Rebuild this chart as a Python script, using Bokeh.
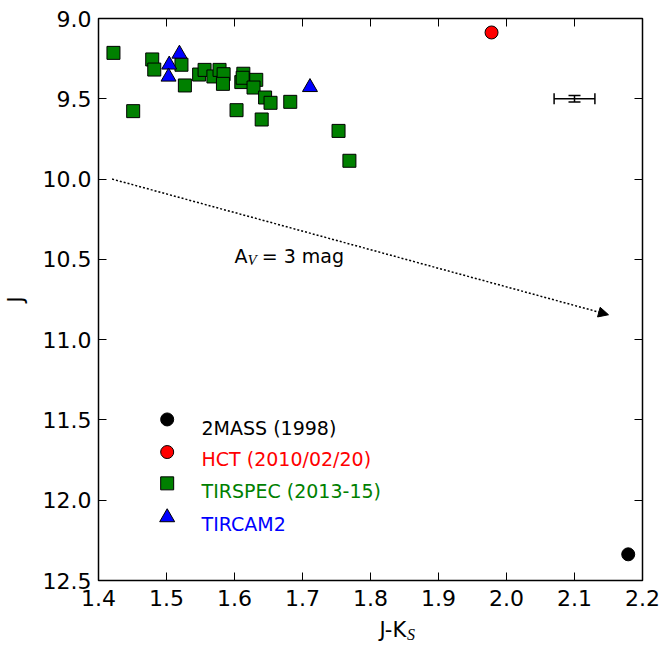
from bokeh.plotting import figure
from bokeh.layouts import column
from bokeh.models import (Range1d, FixedTicker, LinearAxis, Label, Arrow, NormalHead,
                          Whisker, TeeHead, ColumnDataSource, CustomJSTickFormatter)
from bokeh.core.properties import value
from bokeh.embed import file_html
from bokeh.resources import INLINE

# ---- data ----
tirspec_jk = [1.422, 1.479, 1.482, 1.522, 1.451, 1.527, 1.548, 1.556, 1.569, 1.578, 1.584, 1.583,
              1.603, 1.613, 1.610, 1.612, 1.632, 1.628, 1.645, 1.653, 1.640, 1.682, 1.753, 1.769]
tirspec_j = [9.214, 9.255, 9.318, 9.288, 9.577, 9.417, 9.349, 9.320, 9.361, 9.320, 9.347, 9.407,
             9.571, 9.344, 9.396, 9.369, 9.382, 9.430, 9.492, 9.525, 9.629, 9.519, 9.700, 9.886]
tircam_jk = [1.519, 1.504, 1.503, 1.711]
tircam_j = [9.220, 9.288, 9.363, 9.428]
hct_jk = [1.978]
hct_j = [9.087]
twomass_jk = [2.179]
twomass_j = [12.337]

err_jk = [2.10]
err_j = [9.50]
err_djk = [0.03]
err_dj = [0.02]

av_start = (1.42, 10.0)
av_end = (2.15, 10.845)

legend_labels = ["2MASS (1998)", "HCT (2010/02/20)", "TIRSPEC (2013-15)", "TIRCAM2"]
legend_colors = ["black", "red", "green", "blue"]
legend_markers = ["circle", "circle", "square", "triangle"]
legend_marker_y = [11.497, 11.700, 11.895, 12.107]
legend_text_y = [11.553, 11.746, 11.945, 12.150]
legend_marker_x = 1.501
legend_text_x = 1.5515

x_ticks = [1.4, 1.5, 1.6, 1.7, 1.8, 1.9, 2.0, 2.1, 2.2]
y_ticks = [9.0, 9.5, 10.0, 10.5, 11.0, 11.5, 12.0, 12.5]

FONT = "DejaVu Sans"
MATH_FONT = "Liberation Serif"
TICK_FS = "22px"

p = figure(width=663, height=615, output_backend="svg", toolbar_location=None,
           x_range=Range1d(1.4, 2.2), y_range=Range1d(12.5, 9.0),
           min_border_left=98, min_border_right=21, min_border_top=18, min_border_bottom=35,
           background_fill_color="white", border_fill_color="white")
p.grid.visible = False
p.outline_line_color = "black"
p.outline_line_width = 1.5

for ax, ticks in ((p.xaxis[0], x_ticks), (p.yaxis[0], y_ticks)):
    ax.ticker = FixedTicker(ticks=ticks)
    ax.major_tick_in = 8
    ax.major_tick_out = 0
    ax.minor_tick_line_color = None
    ax.axis_line_color = None
    ax.major_tick_line_color = "black"
    ax.major_tick_line_width = 1
    ax.major_label_text_font = FONT
    ax.major_label_text_font_size = TICK_FS
    ax.major_label_text_color = "black"
p.xaxis[0].major_label_standoff = 9
p.yaxis[0].major_label_standoff = 7
p.xaxis[0].major_label_overrides = {t: f"{t:.1f}" for t in x_ticks}
p.yaxis[0].major_label_overrides = {t: f"{t:.1f}" for t in y_ticks}

p.yaxis[0].axis_label = "J"
p.yaxis[0].axis_label_text_font = FONT
p.yaxis[0].axis_label_text_font_style = "normal"
p.yaxis[0].axis_label_text_font_size = "21px"
p.yaxis[0].axis_label_text_color = "black"
p.yaxis[0].axis_label_standoff = 12

empty = CustomJSTickFormatter(code="return ''")
top = LinearAxis(ticker=FixedTicker(ticks=x_ticks), formatter=empty, major_tick_in=8, major_tick_out=0,
                 minor_tick_line_color=None, axis_line_color=None, major_label_standoff=0)
right = LinearAxis(ticker=FixedTicker(ticks=y_ticks), formatter=empty, major_tick_in=8, major_tick_out=0,
                   minor_tick_line_color=None, axis_line_color=None, major_label_standoff=0)
p.add_layout(top, "above")
p.add_layout(right, "right")

# extinction vector
p.add_layout(Arrow(x_start=av_start[0], y_start=av_start[1], x_end=av_end[0], y_end=av_end[1],
                   line_color="black", line_width=1.5, line_dash="2 2",
                   end=NormalHead(size=10, fill_color="black", line_color="black", line_width=1)))

# data points
p.scatter(tirspec_jk, tirspec_j, marker="square", size=13, fill_color="green", line_color="black", line_width=1)
p.scatter(tircam_jk, tircam_j, marker="triangle", size=15, fill_color="blue", line_color="black", line_width=1)
p.scatter(hct_jk, hct_j, marker="circle", size=13, fill_color="red", line_color="black", line_width=1)
p.scatter(twomass_jk, twomass_j, marker="circle", size=13, fill_color="black", line_color="black", line_width=1)

# typical error bar
es = ColumnDataSource(dict(x=err_jk, y=err_j,
                           xl=[a - b for a, b in zip(err_jk, err_djk)], xu=[a + b for a, b in zip(err_jk, err_djk)],
                           yl=[a - b for a, b in zip(err_j, err_dj)], yu=[a + b for a, b in zip(err_j, err_dj)]))
p.add_layout(Whisker(source=es, dimension="width", base="y", lower="xl", upper="xu",
                     line_color="black", line_width=1.5,
                     lower_head=TeeHead(size=11, line_color="black", line_width=1.5),
                     upper_head=TeeHead(size=11, line_color="black", line_width=1.5)))
p.add_layout(Whisker(source=es, dimension="height", base="x", lower="yl", upper="yu",
                     line_color="black", line_width=1.5,
                     lower_head=TeeHead(size=12, line_color="black", line_width=1.5),
                     upper_head=TeeHead(size=12, line_color="black", line_width=1.5)))

# A_V label
p.add_layout(Label(x=1.600, y=10.48, text="A", text_font=FONT, text_font_size="19px",
                   text_color="black", text_baseline="middle", text_align="left"))
p.add_layout(Label(x=1.619, y=10.505, text="V", text_font=MATH_FONT, text_font_style="italic",
                   text_color="black", text_font_size="15px", text_baseline="middle", text_align="left"))
p.add_layout(Label(x=1.640, y=10.48, text="= 3 mag", text_font=FONT, text_font_size="19px",
                   text_color="black", text_baseline="middle", text_align="left"))

# legend (drawn by hand, as in the reference)
for lab, col, mk, my, ty in zip(legend_labels, legend_colors, legend_markers, legend_marker_y, legend_text_y):
    p.scatter([legend_marker_x], [my], marker=mk, size=15 if mk == "triangle" else 13,
              fill_color=col, line_color="black", line_width=1)
    p.add_layout(Label(x=legend_text_x, y=ty, text=lab, text_color=col, text_font=FONT,
                       text_font_size="19px", text_baseline="middle", text_align="left"))

# x-axis title strip (J-K_S), pixel coordinates
q = figure(width=663, height=30, output_backend="svg", toolbar_location=None,
           x_range=Range1d(0, 663), y_range=Range1d(30, 0),
           x_axis_location=None, y_axis_location=None,
           min_border_left=0, min_border_right=0, min_border_top=0, min_border_bottom=0,
           background_fill_color="white", border_fill_color="white")
q.grid.visible = False
q.outline_line_color = None
q.text(x=[375], y=[14], text=["J-K"], text_align="right", text_baseline="middle",
       text_font=value(FONT), text_font_size="21px", text_color="black")
q.text(x=[376], y=[19], text=["S"], text_align="left", text_baseline="middle",
       text_font=value(MATH_FONT), text_font_style="italic", text_font_size="16px", text_color="black")

layout = column(p, q, spacing=0)
open("out.html", "w").write(file_html(layout, INLINE))
